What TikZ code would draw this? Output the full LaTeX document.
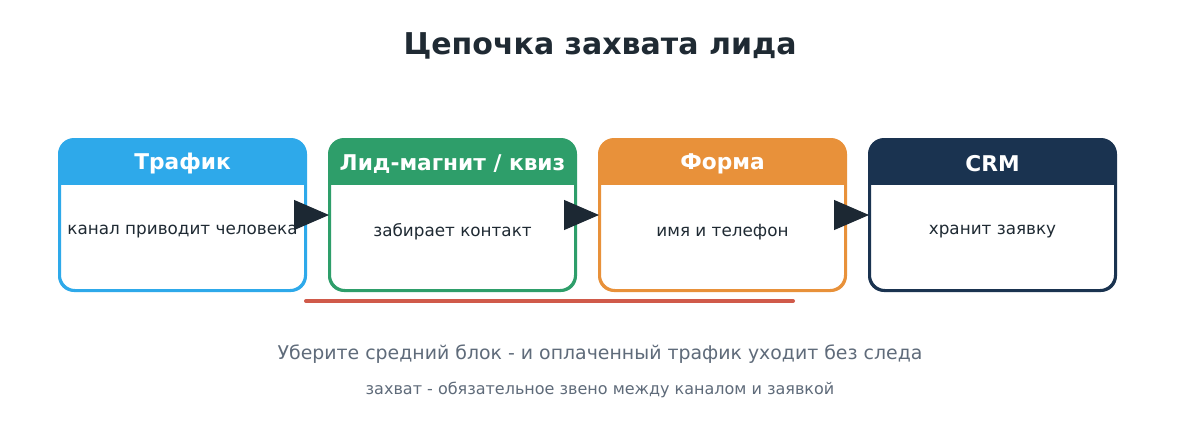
\documentclass[tikz,border=0pt]{standalone}
\usepackage{fontspec}
\setmainfont{DejaVu Sans}
\usetikzlibrary{arrows.meta}

\definecolor{trafblue}{HTML}{2EA9EA}
\definecolor{leadgreen}{HTML}{2E9E6A}
\definecolor{formorange}{HTML}{E8913A}
\definecolor{crmnavy}{HTML}{1A3350}
\definecolor{arrowink}{HTML}{1C2833}
\definecolor{textink}{HTML}{1F2A33}
\definecolor{noteink}{HTML}{5F6B7A}
\definecolor{gapred}{HTML}{D05A4A}

\tikzset{
  stage/.style={draw=#1, line width=2pt, rounded corners=15pt,
    minimum width=245pt, minimum height=150pt, inner sep=0pt},
  head/.style={text=white, font=\bfseries\fontsize{21.7}{25}\selectfont},
  body/.style={text=textink, font=\fontsize{16.8}{20}\selectfont}
}

\begin{document}
\begin{tikzpicture}[x=1pt,y=-1pt]
        \useasboundingbox[fill=white] (0,0) rectangle (1200,440);
        % \draw[help lines,step=50] (0,0) grid (1200,440);
        \node[font=\bfseries\fontsize{30}{36}\selectfont, text=textink] at (600,46) (title) {Цепочка захвата лида};

        \node[stage=trafblue] at (182.5,215) (traf) {};
        \node[stage=leadgreen] at (452.5,215) (lead) {};
        \node[stage=formorange] at (722.5,215) (form) {};
        \node[stage=crmnavy] at (992.5,215) (crm) {};

        % header bands
        \foreach \b/\c in {traf/trafblue, lead/leadgreen, form/formorange, crm/crmnavy}{
          \begin{scope}
            \clip[rounded corners=15pt] (\b.south west) rectangle (\b.north east);
            \fill[\c] (\b.north west) rectangle ([yshift=-46pt]\b.north east);
          \end{scope}
          \draw[\c, line width=2pt, rounded corners=15pt] (\b.south west) rectangle (\b.north east);
        }

        \node[head] at ([yshift=-25pt]traf.north) (trafhead) {Трафик};
        \node[head] at ([yshift=-25pt]lead.north) (leadhead) {Лид-магнит / квиз};
        \node[head] at ([yshift=-25pt]form.north) (formhead) {Форма};
        \node[head] at ([yshift=-25pt]crm.north) (crmhead) {CRM};

        \node[body] at ([yshift=-93pt]traf.north) (trafbody) {канал приводит человека};
        \node[body] at ([yshift=-93pt]lead.north) (leadbody) {забирает контакт};
        \node[body] at ([yshift=-93pt]form.north) (formbody) {имя и телефон};
        \node[body] at ([yshift=-93pt]crm.north) (crmbody) {хранит заявку};

        \path[-{Triangle[length=35pt,width=30pt]}, draw=arrowink, fill=arrowink, line width=1pt]
        (traf) edge (lead)
        (lead) edge (form)
        (form) edge (crm);

        \coordinate (gapstart) at (306,301);
        \coordinate (gapend) at (793,301);
        \draw[gapred, line width=4pt, line cap=round] (gapstart) -- (gapend);

        \node[text=noteink, font=\fontsize{18.9}{23}\selectfont] at (600,354) (note) {Уберите средний блок - и оплаченный трафик уходит без следа};
        \node[text=noteink, font=\fontsize{16}{19}\selectfont] at (600,390) (subnote) {захват - обязательное звено между каналом и заявкой};
\end{tikzpicture}
\end{document}
